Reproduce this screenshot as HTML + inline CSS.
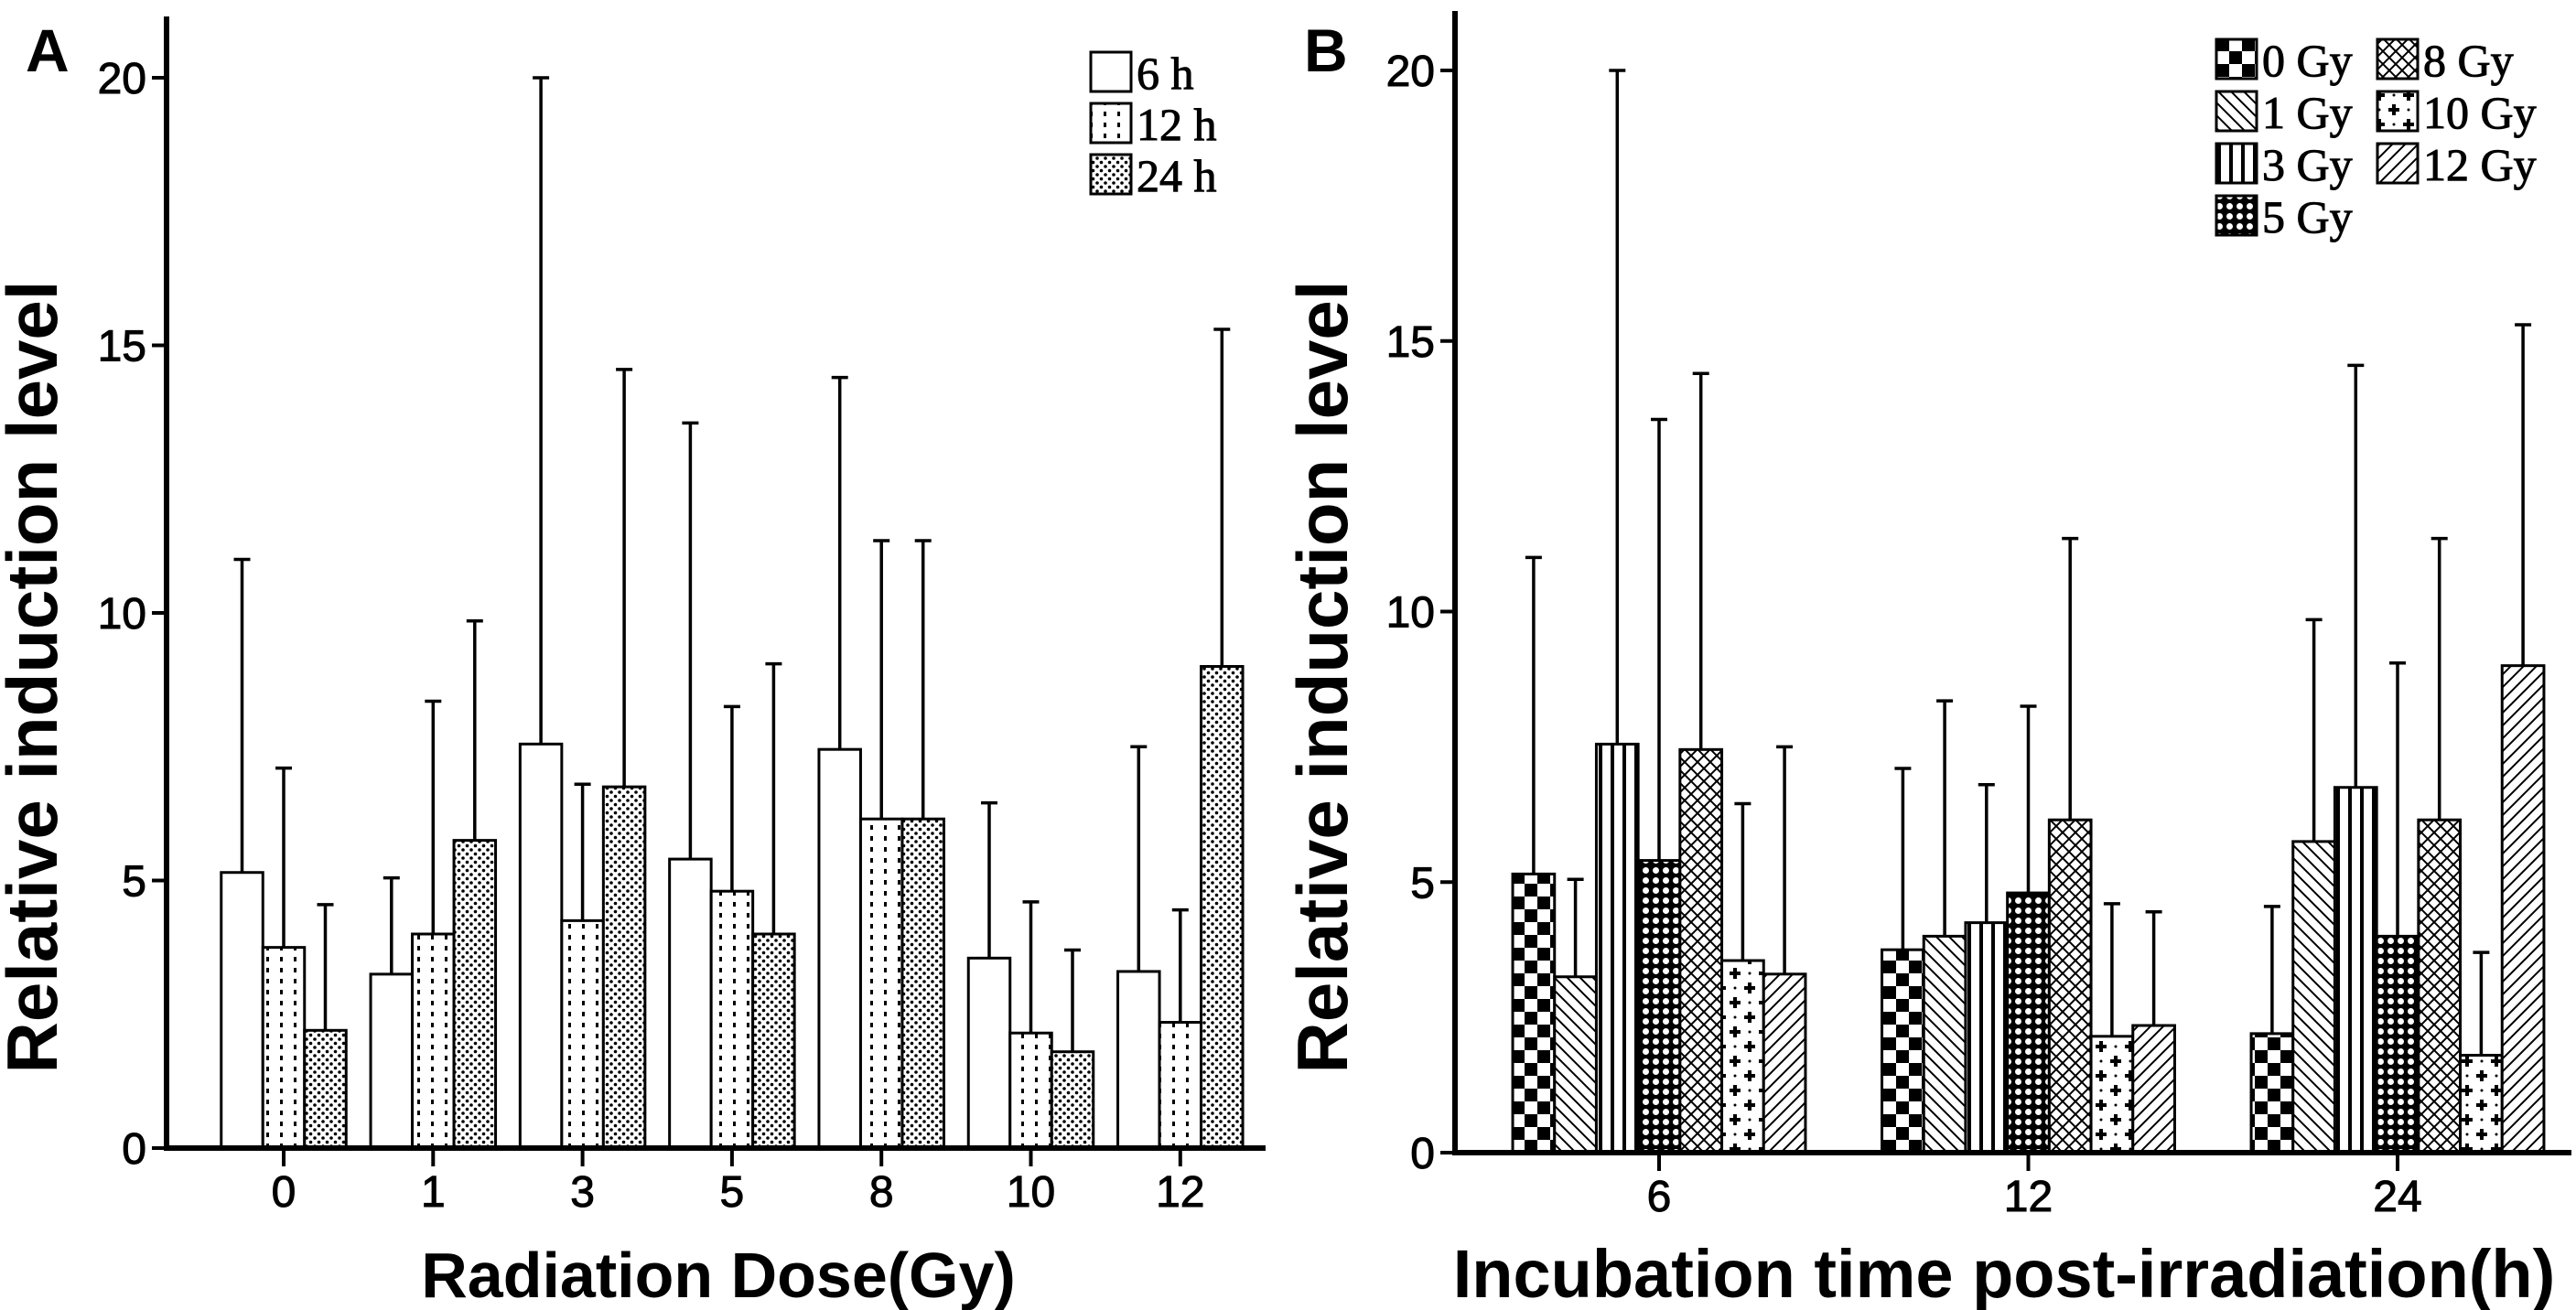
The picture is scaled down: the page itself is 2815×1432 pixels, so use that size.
<!DOCTYPE html>
<html><head><meta charset="utf-8">
<style>
html,body{margin:0;padding:0;background:#fff;}
svg{display:block;}
text{font-family:"Liberation Sans",Arial,sans-serif;}
.serif{font-family:"Liberation Serif","Times New Roman",serif;}
</style></head>
<body>
<svg id="fig" width="2815" height="1432" viewBox="0 0 2815 1432" xmlns="http://www.w3.org/2000/svg">
<defs>
  <pattern id="p-none" width="10" height="10" patternUnits="userSpaceOnUse"><rect width="10" height="10" fill="#fff"/></pattern>
  <pattern id="p-dotcol" width="15" height="12" patternUnits="userSpaceOnUse"><rect width="15" height="12" fill="#fff"/><rect x="6" y="2" width="3" height="5" fill="#000"/></pattern>
  <pattern id="p-dots" width="9" height="9" patternUnits="userSpaceOnUse"><rect width="9" height="9" fill="#fff"/><circle cx="2" cy="2" r="1.8" fill="#000"/><circle cx="6.5" cy="6.5" r="1.8" fill="#000"/></pattern>
  <pattern id="p-check" width="28" height="28" patternUnits="userSpaceOnUse"><rect width="28" height="28" fill="#fff"/><rect width="14" height="14" fill="#000"/><rect x="14" y="14" width="14" height="14" fill="#000"/></pattern>
  <pattern id="p-back" width="14" height="14" patternUnits="userSpaceOnUse"><rect width="14" height="14" fill="#fff"/><path d="M-2,-2 L16,16 M-2,12 L2,16 M12,-2 L16,2" stroke="#000" stroke-width="2"/></pattern>
  <pattern id="p-vert" width="13" height="10" patternUnits="userSpaceOnUse"><rect width="13" height="10" fill="#fff"/><rect x="5" width="4" height="10" fill="#000"/></pattern>
  <pattern id="p-grid" width="11" height="11" patternUnits="userSpaceOnUse"><rect width="11" height="11" fill="#000"/><circle cx="5.5" cy="5.5" r="3.5" fill="#fff"/></pattern>
  <pattern id="p-cross" width="14" height="14" patternUnits="userSpaceOnUse"><rect width="14" height="14" fill="#fff"/><path d="M0,0 L14,14 M14,0 L0,14" stroke="#000" stroke-width="2"/></pattern>
  <pattern id="p-plus" width="32" height="32" patternUnits="userSpaceOnUse"><rect width="32" height="32" fill="#fff"/><path d="M8,2 V14 M2,8 H14 M24,18 V30 M18,24 H30" stroke="#000" stroke-width="4"/><circle cx="24" cy="8" r="1.5"/><circle cx="8" cy="24" r="1.5"/></pattern>
  <pattern id="p-fwd" width="14" height="14" patternUnits="userSpaceOnUse"><rect width="14" height="14" fill="#fff"/><path d="M-2,16 L16,-2 M-2,2 L2,-2 M12,16 L16,12" stroke="#000" stroke-width="2"/></pattern>
</defs>
<g id="panelA"></g>
<g id="panelB"></g>
</svg>
<script>
// Data (relative induction level), rows = time (6h,12h,24h), cols = dose
const doses = ["0","1","3","5","8","10","12"];
const times = ["6","12","24"];
const mean6 = [5.15,3.25,7.55,5.4,7.45,3.55,3.3];
const top6  = [11.0,5.05,20.0,13.55,14.4,6.45,7.5];
const mean12 = [3.75,4.0,4.25,4.8,6.15,2.15,2.35];
const top12  = [7.1,8.35,6.8,8.25,11.35,4.6,4.45];
const mean24 = [2.2,5.75,6.75,4.0,6.15,1.8,9.0];
const top24  = [4.55,9.85,14.55,9.05,11.35,3.7,15.3];
const yTicks = [0,5,10,15,20];

const NS = "http://www.w3.org/2000/svg";
function mk(parent, tag, attrs, txt){
  const e = document.createElementNS(NS, tag);
  for (const k in attrs) e.setAttribute(k, attrs[k]);
  if (txt !== undefined) e.textContent = txt;
  parent.appendChild(e);
  return e;
}
const means = [mean6, mean12, mean24];
const tops = [top6, top12, top24];

function drawPanel(g, cfg){
  const ys = v => cfg.y0 - (v / 20) * (cfg.y0 - cfg.y20);
  const xs = i => cfg.tick0 + i * cfg.step;
  cfg.groups.forEach((gl, gi) => {
    const n = cfg.series.length;
    const start = xs(gi) - n * cfg.bw / 2;
    cfg.series.forEach((sl, si) => {
      const v = cfg.val(gi, si), t = cfg.top(gi, si);
      const x = start + si * cfg.bw;
      const r = mk(g, "rect", {x: x, y: ys(v), width: cfg.bw, height: cfg.y0 - ys(v), fill: "url(#" + cfg.pats[si] + ")", stroke: "#000", "stroke-width": 3});
      
      
      const cx = x + cfg.bw / 2;
      const e = mk(g, "path", {d: "M" + cx + "," + ys(v) + " V" + ys(t) + " M" + (cx - 9) + "," + ys(t) + " H" + (cx + 9), stroke: "#000", "stroke-width": 3.5, fill: "none"});
      
      
    });
    const tk = mk(g, "line", {x1: xs(gi), x2: xs(gi), y1: cfg.y0, y2: cfg.y0 + 20, stroke: "#000", "stroke-width": 4});
    
    
    const tl = mk(g, "text", {x: xs(gi), y: cfg.y0 + 64, "font-size": 48, "text-anchor": "middle", stroke: "#000", "stroke-width": 1}, gl);
    
    
  });
  const ax = mk(g, "path", {d: "M" + cfg.ax + "," + cfg.ytop + " V" + cfg.y0 + " H" + cfg.xend, stroke: "#000", "stroke-width": 6, fill: "none"});
  
  
  yTicks.forEach(v => {
    const t = mk(g, "line", {x1: cfg.ax - 16, x2: cfg.ax, y1: ys(v), y2: ys(v), stroke: "#000", "stroke-width": 4});
    
    
    const l = mk(g, "text", {x: cfg.ax - 22, y: ys(v) + 17, "font-size": 48, "text-anchor": "end", stroke: "#000", "stroke-width": 1}, String(v));
    
    
  });
  const yt = mk(g, "text", {x: 0, y: 0, "font-size": 78, "font-weight": "bold", "text-anchor": "middle", transform: "translate(" + cfg.ytx + ",740) rotate(-90)"}, "Relative induction level");
  
  
  const xt = mk(g, "text", {x: cfg.xtx, y: 1418, "font-size": cfg.xfs, "font-weight": "bold", "text-anchor": "middle"}, cfg.xtitle);
  
  
  const pl = mk(g, "text", {x: cfg.plx, y: 78, "font-size": 66, "font-weight": "bold"}, cfg.label);
  
  
  cfg.series.forEach((sl, si) => {
    const col = Math.floor(si / cfg.legRows), row = si % cfg.legRows;
    const lx = cfg.legX + col * cfg.legColW, ly = cfg.legY + row * cfg.legRowH;
    const b = mk(g, "rect", {x: lx, y: ly, width: 44, height: 43, fill: "url(#" + cfg.pats[si] + ")", stroke: "#000", "stroke-width": 3});
    
    
    const t = mk(g, "text", {x: lx + 50, y: ly + 40, "font-size": 50, "class": "serif", stroke: "#000", "stroke-width": 1}, sl + cfg.unit);
    
    
  });
}

drawPanel(document.getElementById("panelA"), {
  id: "a", label: "A", plx: 28, ax: 182, ytop: 18, xend: 1383, y0: 1255, y20: 85,
  tick0: 310, step: 163.3, bw: 45.5, groups: doses, series: times, unit: " h",
  pats: ["p-none", "p-dotcol", "p-dots"],
  val: (g, s) => means[s][g], top: (g, s) => tops[s][g],
  ytx: 62, xtx: 785, xfs: 70, xtitle: "Radiation Dose(Gy)",
  legX: 1192, legY: 57, legRows: 3, legColW: 0, legRowH: 56
});
drawPanel(document.getElementById("panelB"), {
  id: "b", label: "B", plx: 1425, ax: 1590, ytop: 12, xend: 2810, y0: 1260, y20: 77,
  tick0: 1813, step: 403.5, bw: 45.7, groups: times, series: doses, unit: " Gy",
  pats: ["p-check", "p-back", "p-vert", "p-grid", "p-cross", "p-plus", "p-fwd"],
  val: (g, s) => means[g][s], top: (g, s) => tops[g][s],
  ytx: 1472, xtx: 2190, xfs: 74, xtitle: "Incubation time post-irradiation(h)",
  legX: 2422, legY: 43, legRows: 4, legColW: 176, legRowH: 57
});
</script>
</body></html>
